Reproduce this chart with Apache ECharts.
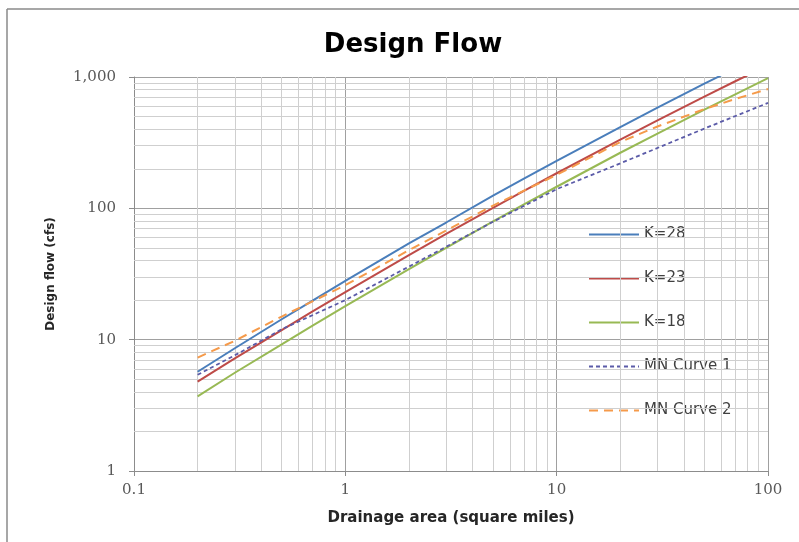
<!DOCTYPE html>
<html>
<head>
<meta charset="utf-8">
<script src="https://cdn.jsdelivr.net/npm/echarts@6/dist/echarts.min.js"></script>
<style>
html,body{margin:0;padding:0;background:#fff;}
#chart{width:799px;height:542px;}
</style>
</head>
<body>
<div id="chart"></div>
<script>
// ---- data ----
const titleText = 'Design Flow';
const xAxisTitle = 'Drainage area (square miles)';
const yAxisTitle = 'Design flow (cfs)';

const areasK28 = [0.2, 0.3, 0.5, 0.7, 1, 2, 3, 5, 7, 10, 20, 30, 50, 60];
const flowK28  = [5.7, 8.6, 14.3, 19.8, 28, 54, 78, 125, 168, 230, 416, 584, 889, 1028];

const areasK23 = [0.2, 0.3, 0.5, 0.7, 1, 2, 3, 5, 7, 10, 20, 30, 50, 70, 80];
const flowK23  = [4.8, 7.2, 11.8, 16.4, 23, 44, 64, 101, 136, 185, 333, 467, 708, 928, 1030];

const areasK18 = [0.2, 0.3, 0.5, 0.7, 1, 2, 3, 5, 7, 10, 20, 30, 50, 70, 100];
const flowK18  = [3.7, 5.6, 9.2, 12.8, 18, 34.5, 50, 79.5, 107, 146, 265, 371, 564, 738, 980];

const areasMN1 = [0.2, 0.3, 0.5, 1, 2, 5, 10, 20, 50, 100];
const flowMN1  = [5.4, 7.6, 12, 20, 36, 79, 140, 220, 405, 635];

const areasMN2 = [0.2, 0.3, 0.5, 1, 2, 5, 10, 20, 30, 50, 70, 100];
const flowMN2  = [7.3, 9.8, 15, 26, 48, 105, 180, 320, 420, 570, 680, 810];

const seriesNames = ['K=28', 'K=23', 'K=18', 'MN Curve 1', 'MN Curve 2'];

// minor grid positions (log axes)
const xMinorTicks = [0.2,0.3,0.4,0.5,0.6,0.7,0.8,0.9, 2,3,4,5,6,7,8,9, 20,30,40,50,60,70,80,90];
const yMinorTicks = [2,3,4,5,6,7,8,9, 20,30,40,50,60,70,80,90, 200,300,400,500,600,700,800,900];

function pairs(xs, ys){ return xs.map((x,i)=>[x, ys[i]]); }

const SANS = 'DejaVu Sans';
const SERIF = 'DejaVu Serif';
const chart = echarts.init(document.getElementById('chart'), null, {renderer:'canvas'});

const lineBase = { type:'line', showSymbol:false, symbol:'none', smooth:false, clip:true, animation:false, z:5 };

const option = {
  animation:false,
  backgroundColor:'#ffffff',
  title:{
    text:titleText, left:408, top:27, textAlign:'center',
    textStyle:{fontFamily:SANS, fontSize:26, fontWeight:'bold', color:'#000000'}
  },
  grid:{ left:134, right:31, top:77, bottom:71, containLabel:false },
  legend:{
    orient:'vertical', left:583, top:222, itemGap:29, itemWidth:50, itemHeight:15,
    itemStyle:{opacity:0, borderWidth:0},
    textStyle:{fontFamily:SANS, fontSize:15, color:'#404040'},
    data:seriesNames
  },
  xAxis:{
    type:'log', logBase:10, min:0.1, max:100,
    name:xAxisTitle, nameLocation:'middle', nameGap:40,
    nameTextStyle:{fontFamily:SANS, fontSize:15, fontWeight:'bold', color:'#262626'},
    axisLine:{show:true, lineStyle:{color:'#8c8c8c', width:1}},
    axisTick:{show:true, inside:false, length:5, lineStyle:{color:'#8c8c8c'}},
    axisLabel:{fontFamily:SERIF, fontSize:15, color:'#595959', margin:12,
      formatter:function(v){ return String(v); }},
    splitLine:{show:true, lineStyle:{color:'#a0a0a0', width:1}}
  },
  yAxis:{
    type:'log', logBase:10, min:1, max:1000,
    name:yAxisTitle, nameLocation:'middle', nameGap:77, nameRotate:90,
    nameTextStyle:{fontFamily:SANS, fontSize:12, fontWeight:'bold', color:'#262626'},
    axisLine:{show:true, lineStyle:{color:'#8c8c8c', width:1}},
    axisTick:{show:true, inside:false, length:5, lineStyle:{color:'#8c8c8c'}},
    axisLabel:{fontFamily:SERIF, fontSize:15, color:'#595959', margin:18,
      formatter:function(v){ return Number(v).toLocaleString('en-US'); }},
    splitLine:{show:true, lineStyle:{color:'#a0a0a0', width:1}}
  },
  series:[
    {
      type:'line', name:'_grid', data:[], silent:true, animation:false, z:1,
      markLine:{
        silent:true, symbol:['none','none'], animation:false,
        label:{show:false},
        lineStyle:{color:'#cfcfcf', width:1, type:'solid'},
        data: xMinorTicks.map(v=>({xAxis:v})).concat(yMinorTicks.map(v=>({yAxis:v})))
      }
    },
    Object.assign({}, lineBase, {name:seriesNames[0], data:pairs(areasK28, flowK28),
      itemStyle:{color:'#4a7ebb'}, lineStyle:{color:'#4a7ebb', width:2}}),
    Object.assign({}, lineBase, {name:seriesNames[1], data:pairs(areasK23, flowK23),
      itemStyle:{color:'#be4b48'}, lineStyle:{color:'#be4b48', width:2}}),
    Object.assign({}, lineBase, {name:seriesNames[2], data:pairs(areasK18, flowK18),
      itemStyle:{color:'#98b954'}, lineStyle:{color:'#98b954', width:2}}),
    Object.assign({}, lineBase, {name:seriesNames[3], data:pairs(areasMN1, flowMN1),
      itemStyle:{color:'#5b5ba8'}, lineStyle:{color:'#5b5ba8', width:1.8, type:[4,3]}}),
    Object.assign({}, lineBase, {name:seriesNames[4], data:pairs(areasMN2, flowMN2),
      itemStyle:{color:'#f59a4a'}, lineStyle:{color:'#f59a4a', width:2, type:[9,6]}})
  ],
  graphic:[
    {type:'line', silent:true, shape:{x1:7, y1:9, x2:799, y2:9}, style:{stroke:'#8a8a8a', lineWidth:1.5}},
    {type:'line', silent:true, shape:{x1:7, y1:9, x2:7, y2:542}, style:{stroke:'#8a8a8a', lineWidth:1.5}}
  ]
};
chart.setOption(option);
</script>
</body>
</html>
